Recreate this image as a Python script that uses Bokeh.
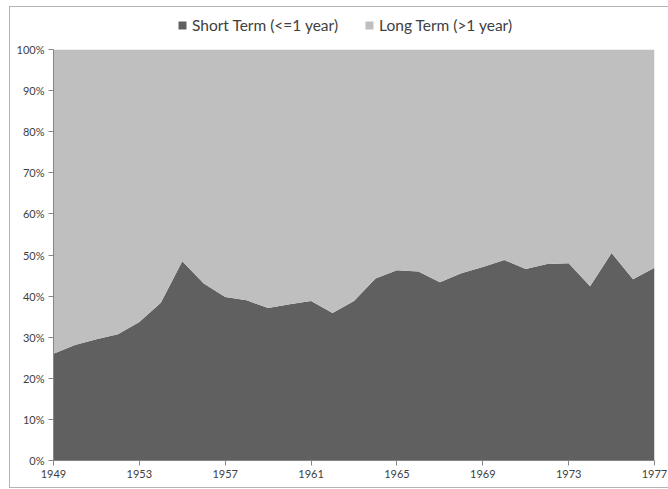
from bokeh.plotting import figure
from bokeh.models import ColumnDataSource, FixedTicker, Legend, Range1d, InlineStyleSheet
from bokeh.embed import file_html
from bokeh.resources import INLINE

years = list(range(1949, 1978))
short_term = [26.0, 28.1, 29.5, 30.7, 33.7, 38.4, 48.5, 43.1, 39.8, 39.0,
              37.1, 38.0, 38.8, 35.9, 38.8, 44.3, 46.3, 46.0, 43.4, 45.6,
              47.1, 48.8, 46.6, 47.8, 48.0, 42.4, 50.5, 44.1, 46.9]
long_term = [74.0, 71.9, 70.5, 69.3, 66.3, 61.6, 51.5, 56.9, 60.2, 61.0,
             62.9, 62.0, 61.2, 64.1, 61.2, 55.7, 53.7, 54.0, 56.6, 54.4,
             52.9, 51.2, 53.4, 52.2, 52.0, 57.6, 49.5, 55.9, 53.1]
series_names = ["Short Term (<=1 year)", "Long Term (>1 year)"]
x_ticks = [1949, 1953, 1957, 1961, 1965, 1969, 1973, 1977]
y_ticks = [0, 10, 20, 30, 40, 50, 60, 70, 80, 90, 100]
y_tick_labels = ["0%", "10%", "20%", "30%", "40%", "50%", "60%", "70%", "80%", "90%", "100%"]

colors = ["#606060", "#bfbfbf"]
FONT = "Lato"
TEXT = "#404040"

src = ColumnDataSource(dict(year=years, short=short_term, long=long_term))

chart_border = InlineStyleSheet(css="""
:host { position: relative; }
:host::after {
  content: ""; position: absolute; left: 9px; top: 6px; right: 0px; bottom: 1px;
  border: 1px solid #b4b4b4; border-right: none;
  pointer-events: none; z-index: 10;
}
""")

# frame extends above 100% to host the legend (space above the plot area)
p = figure(width=668, height=489, output_backend="svg", toolbar_location=None,
           x_range=Range1d(years[0], years[-1]), y_range=Range1d(0, 110.5),
           min_border_left=53, min_border_right=14, min_border_top=6,
           min_border_bottom=29, sizing_mode="fixed",
           stylesheets=[chart_border])

renderers = p.varea_stack(["short", "long"], x="year", source=src,
                          color=colors)

p.xgrid.visible = False
p.ygrid.visible = False
p.outline_line_color = None
p.background_fill_color = "white"
p.border_fill_color = "white"

p.xaxis.ticker = FixedTicker(ticks=x_ticks)
p.yaxis.ticker = FixedTicker(ticks=y_ticks)
p.yaxis.bounds = (0, 100)
p.yaxis.major_label_overrides = {t: l for t, l in zip(y_ticks, y_tick_labels)}
for ax in (p.xaxis[0], p.yaxis[0]):
    ax.axis_line_color = "#868686"
    ax.major_tick_line_color = "#868686"
    ax.major_tick_out = 5
    ax.major_tick_in = 0
    ax.minor_tick_line_color = None
    ax.major_label_text_font = FONT
    ax.major_label_text_font_size = "11px"
    ax.major_label_text_color = TEXT
    ax.major_label_standoff = 4

legend = Legend(items=[(series_names[0], [renderers[0]]), (series_names[1], [renderers[1]])],
                orientation="horizontal", location=(124, 426),
                border_line_color=None, background_fill_alpha=0,
                label_text_font=FONT, label_text_font_size="15.5px",
                label_text_color=TEXT, glyph_width=10, glyph_height=10,
                label_standoff=5, spacing=26, padding=0, margin=0)
p.add_layout(legend, "center")

open("out.html", "w").write(file_html(p, INLINE))
